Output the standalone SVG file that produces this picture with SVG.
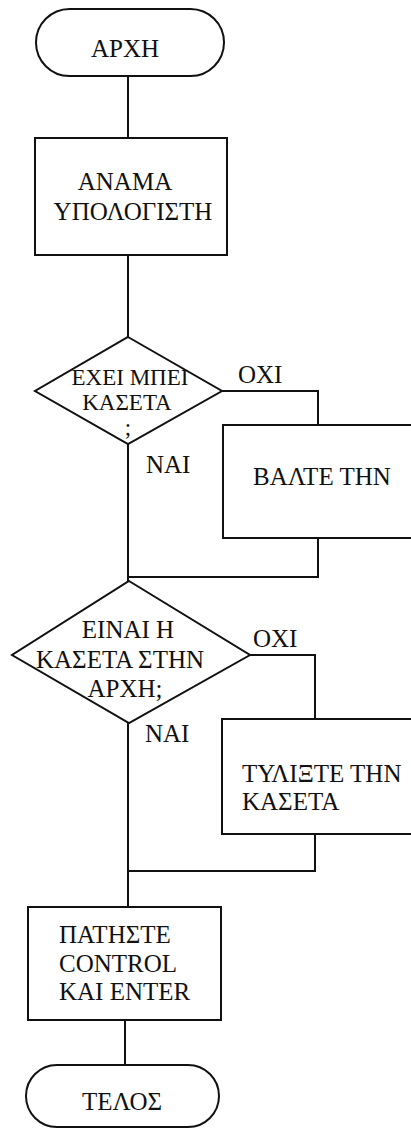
<svg xmlns="http://www.w3.org/2000/svg" width="411" height="1128" viewBox="0 0 411 1128">
<style>
.s{fill:#fff;stroke:#111;stroke-width:2}
.c{fill:none;stroke:#111;stroke-width:2}
.t{font-family:'Liberation Serif','Times New Roman',Times,serif;font-size:25px;fill:#111}
.d{font-size:23px}
.m{text-anchor:middle}
</style>
<rect width="411" height="1128" fill="#fff"/>
<g id="connectors">
<path class="c" d="M128 76V138"/>
<path class="c" d="M128 255V337"/>
<path class="c" d="M222 391H318V425"/>
<path class="c" d="M128 444V581"/>
<path class="c" d="M318 538V577H128"/>
<path class="c" d="M250 655H315V719"/>
<path class="c" d="M128 723V907"/>
<path class="c" d="M315 834V871H128"/>
<path class="c" d="M125 1020V1065"/>
</g>
<g id="start">
<rect class="s" x="36" y="9" width="188" height="67" rx="33.5"/>
<text class="t m" x="125" y="57">ΑΡΧΗ</text>
</g>
<g id="power">
<rect class="s" x="35" y="138" width="192" height="117"/>
<text class="t m" x="125" y="190">ΑΝΑΜΑ</text>
<text class="t m" x="133" y="220">ΥΠΟΛΟΓΙΣΤΗ</text>
</g>
<g id="dec1">
<polygon class="s" points="128,337 222,391 128,444 35,391"/>
<text class="t d m" x="130" y="385">ΕΧΕΙ ΜΠΕΙ</text>
<text class="t d m" x="127" y="410">ΚΑΣΕΤΑ</text>
<text class="t d m" x="128" y="435">;</text>
</g>
<text class="t" x="238" y="383">ΟΧΙ</text>
<text class="t" x="146" y="473">ΝΑΙ</text>
<g id="insert">
<rect class="s" x="223" y="425" width="190" height="113"/>
<text class="t" x="253" y="485">ΒΑΛΤΕ ΤΗΝ</text>
</g>
<g id="dec2">
<polygon class="s" points="129,581 250,655 129,723 12,655"/>
<text class="t m" x="128" y="638">ΕΙΝΑΙ Η</text>
<text class="t m" x="120" y="668">ΚΑΣΕΤΑ ΣΤΗΝ</text>
<text class="t m" x="125" y="697">ΑΡΧΗ;</text>
</g>
<text class="t" x="253" y="647">ΟΧΙ</text>
<text class="t" x="145" y="742">ΝΑΙ</text>
<g id="rewind">
<rect class="s" x="222" y="719" width="191" height="115"/>
<text class="t" x="242" y="782">ΤΥΛΙΞΤΕ ΤΗΝ</text>
<text class="t" x="242" y="810">ΚΑΣΕΤΑ</text>
</g>
<g id="press">
<rect class="s" x="28" y="907" width="193" height="113"/>
<text class="t" x="59" y="943">ΠΑΤΗΣΤΕ</text>
<text class="t" x="59" y="972">CONTROL</text>
<text class="t" x="59" y="1000">ΚΑΙ ΕΝΤΕR</text>
</g>
<g id="end">
<rect class="s" x="26" y="1065" width="193" height="62" rx="31"/>
<text class="t m" x="122" y="1110">ΤΕΛΟΣ</text>
</g>
</svg>
